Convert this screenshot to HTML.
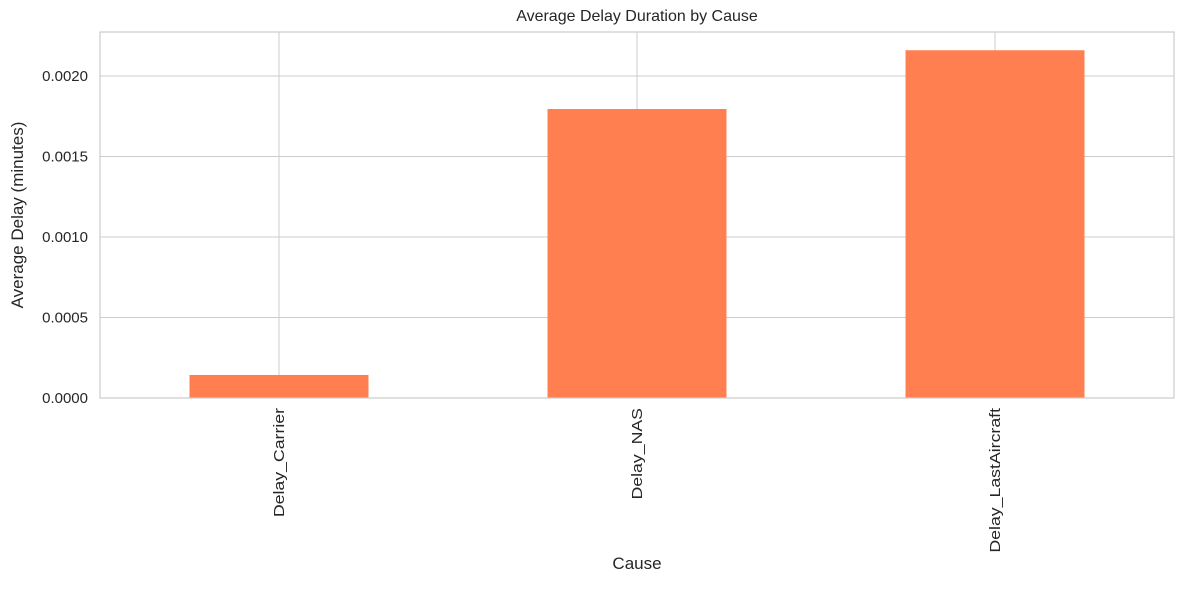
<!DOCTYPE html>
<html><head><meta charset="utf-8"><style>
body{margin:0;background:#fff;font-family:"Liberation Sans","DejaVu Sans",sans-serif;}
svg text{font-family:"Liberation Sans","DejaVu Sans",sans-serif;fill:#262626;}
</style></head><body>
<svg id="chart" width="1184" height="584" viewBox="0 0 1184 584"></svg>
<script>
const categories = ["Delay_Carrier", "Delay_NAS", "Delay_LastAircraft"];
const values = [0.000143, 0.001795, 0.00216];
const yTicks = [0, 0.0005, 0.0010, 0.0015, 0.0020];
const yTickLabels = ["0.0000", "0.0005", "0.0010", "0.0015", "0.0020"];

const svg = document.getElementById('chart');
const NS = 'http://www.w3.org/2000/svg';
const L = 100, R = 1174, T = 32, B = 398;
const yMax = (B - T) / 161000;
const y = v => B - v / yMax * (B - T);
const step = (R - L) / categories.length;
const x = i => L + step * (i + 0.5);
function mk(tag, attrs, parent) {
  const e = document.createElementNS(NS, tag);
  for (const k in attrs) e.setAttribute(k, attrs[k]);
  (parent || svg).appendChild(e);
  return e;
}
yTicks.forEach((t, i) => {
  const g = mk('line', {x1: L, x2: R, y1: y(t), y2: y(t), stroke: '#cccccc', 'stroke-width': 1});
  
  
  const lb = mk('text', {x: L - 12, y: y(t) + 5, 'text-anchor': 'end', 'font-size': 15});
  lb.textContent = yTickLabels[i];
  
  
});
categories.forEach((c, i) => {
  const g = mk('line', {x1: x(i), x2: x(i), y1: T, y2: B, stroke: '#cccccc', 'stroke-width': 1});
  
  
});
categories.forEach((c, i) => {
  const w = step * 0.5;
  const b = mk('rect', {x: x(i) - w / 2, y: y(values[i]), width: w, height: B - y(values[i]), fill: '#ff7f50'});
  
  
  const lb = mk('text', {x: 0, y: 0, 'text-anchor': 'end', 'font-size': 15, 'textLength': 0, transform: `translate(${x(i) + 5},${B + 10}) rotate(-90)`});
  lb.removeAttribute('textLength');
  lb.textContent = c;
  
  
  const len = lb.getComputedTextLength();
  lb.setAttribute('textLength', len * 1.18);
  lb.setAttribute('lengthAdjust', 'spacingAndGlyphs');
});
const frame = mk('rect', {x: L, y: T, width: R - L, height: B - T, fill: 'none', stroke: '#cccccc', 'stroke-width': 1.2});


</script>
<div style="position:absolute;left:0;top:0;width:1184px;height:584px;pointer-events:none">
<div style="position:absolute;top:8px;left:100px;width:1074px;text-align:center;font-size:16px;color:#262626">Average Delay Duration by Cause</div>
<div style="position:absolute;top:554px;left:100px;width:1074px;text-align:center;font-size:17px;color:#262626">Cause</div>
<div style="position:absolute;left:18px;top:215px;transform:translate(-50%,-50%) rotate(-90deg);white-space:nowrap;font-size:17px;color:#262626">Average Delay (minutes)</div>
</div>
</body></html>
